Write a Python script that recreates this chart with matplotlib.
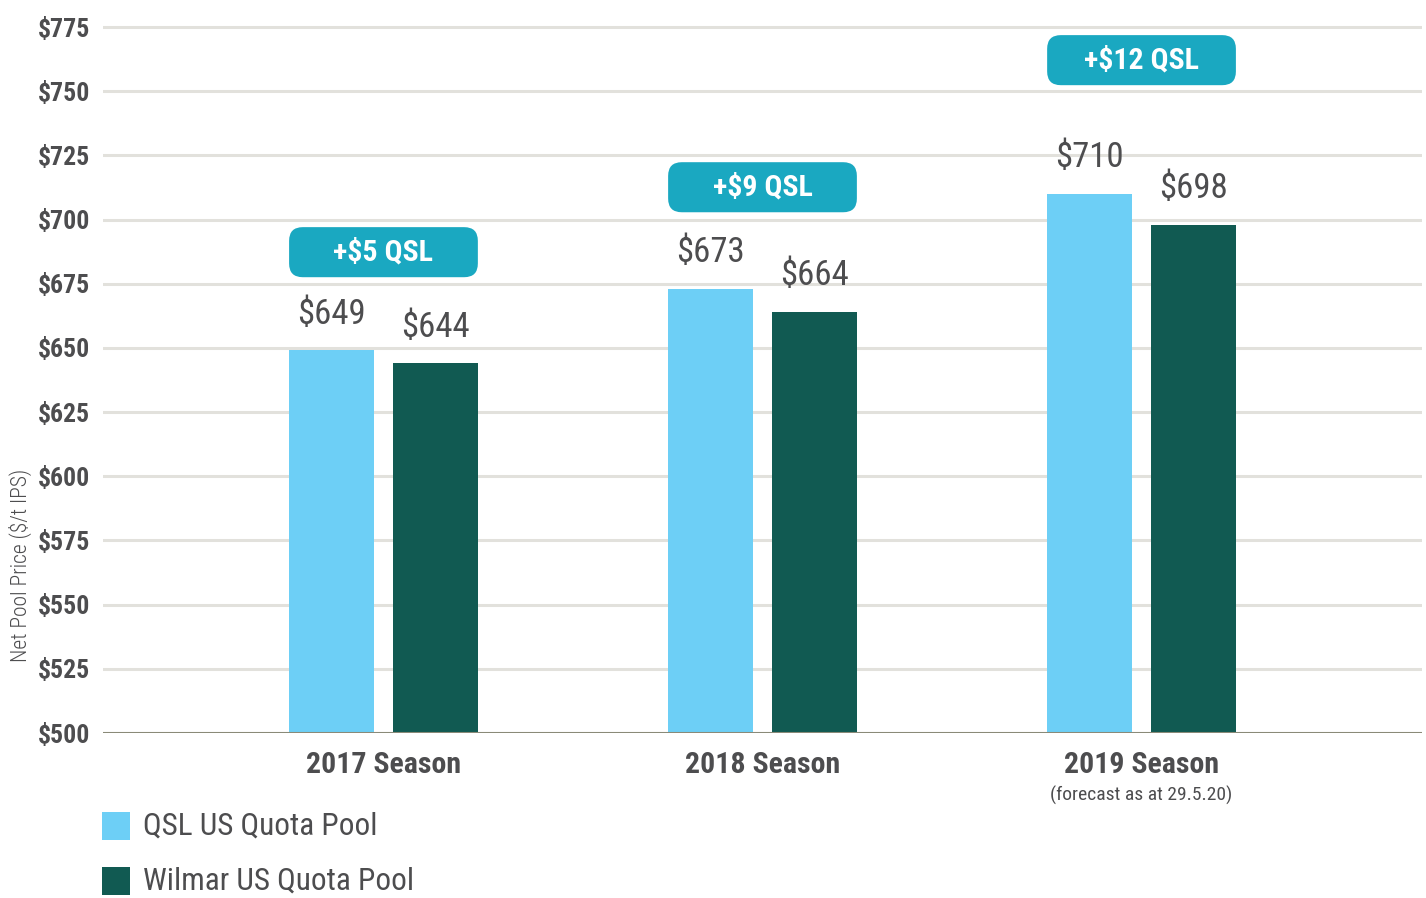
import matplotlib
matplotlib.use("Agg")
import numpy as np
import matplotlib.pyplot as plt
from matplotlib.patches import FancyBboxPatch, Rectangle
from matplotlib.transforms import blended_transform_factory

# data
seasons = ["2017 Season", "2018 Season", "2019 Season"]
qsl_pool = [649, 673, 710]
wilmar_pool = [644, 664, 698]
diff_labels = ["+$5 QSL", "+$9 QSL", "+$12 QSL"]
series_names = ["QSL US Quota Pool", "Wilmar US Quota Pool"]
yticks = list(range(500, 776, 25))

# style
FONT = "Roboto Condensed"
TXT = "#4d4d4f"
LIGHT = "#6dcff6"
DARK = "#115a52"
BADGE = "#1aa8c1"
GRID = "#e2e1dc"
BASE = "#8a8a78"

plt.rcParams['font.family'] = [FONT, 'DejaVu Sans']

fig = plt.figure(figsize=(14.26, 8.98), dpi=100)
ax = fig.add_axes([103 / 1426, 1 - 733 / 898, 1319 / 1426, (733 - 14.2) / 898])

x = np.arange(len(seasons))
w = 0.224
off = 0.137
ax.bar(x - off, np.array(qsl_pool) - 500, w, bottom=500, color=LIGHT, zorder=3)
ax.bar(x + off, np.array(wilmar_pool) - 500, w, bottom=500, color=DARK, zorder=3)

ax.set_xlim(-0.74, 2.74)
ax.set_ylim(500, 780)
ax.set_yticks(yticks)
ax.set_yticklabels(["$%d" % v for v in yticks])
ax.set_xticks(x)
ax.set_xticklabels(seasons)
ax.tick_params(axis='y', length=0, pad=9.5, labelsize=18.5, labelcolor=TXT)
ax.tick_params(axis='x', length=0, pad=13, labelsize=21.5, labelcolor=TXT)
for lab in ax.get_xticklabels() + ax.get_yticklabels():
    lab.set_fontweight('bold')
ax.grid(axis='y', color=GRID, linewidth=2.2, zorder=0)
ax.set_axisbelow(True)
for s in ax.spines.values():
    s.set_visible(False)
ax.axhline(500, color=BASE, linewidth=2.2, zorder=4)

# value labels
for i in range(len(seasons)):
    ax.annotate("$%d" % qsl_pool[i], (x[i] - off, qsl_pool[i]), xytext=(0, 26),
                textcoords='offset points', ha='center', va='center', fontsize=25, color=TXT)
    ax.annotate("$%d" % wilmar_pool[i], (x[i] + off, wilmar_pool[i]), xytext=(0, 26),
                textcoords='offset points', ha='center', va='center', fontsize=25, color=TXT)

# difference badges
badge_y = [687.3, 712.6, 762.1]
badge_h = 19.5
badge_w = 2 * off + w
for i in range(len(seasons)):
    box = FancyBboxPatch((x[i] - badge_w / 2, badge_y[i] - badge_h / 2), badge_w, badge_h,
                         boxstyle="round,pad=0,rounding_size=0.036", mutation_aspect=147.6,
                         facecolor=BADGE, edgecolor='none', zorder=5)
    ax.add_patch(box)
    ax.text(x[i], badge_y[i], diff_labels[i], ha='center', va='center', fontsize=21.5,
            fontweight='bold', color='white', zorder=6)

# forecast note
tr = blended_transform_factory(ax.transData, ax.transAxes)
ax.annotate("(forecast as at 29.5.20)", (x[2], 0), xycoords=tr, xytext=(0, -45),
            textcoords='offset points', ha='center', va='center', fontsize=14, color=TXT)

# y label
fig.text(20 / 1426, 1 - 565 / 898, "Net Pool Price ($/t IPS)", rotation=90, ha='center',
         va='center', fontsize=15.5, fontweight='light', color=TXT)

# legend
for j, (name, col) in enumerate(zip(series_names, [LIGHT, DARK])):
    yc = [826, 881][j]
    fig.patches.append(Rectangle((102 / 1426, 1 - (yc + 14) / 898), 28 / 1426, 28 / 898,
                                 transform=fig.transFigure, facecolor=col, edgecolor='none'))
    fig.text(143 / 1426, 1 - yc / 898, name, ha='left', va='center', fontsize=22.5, color=TXT)

fig.savefig("out.png")
